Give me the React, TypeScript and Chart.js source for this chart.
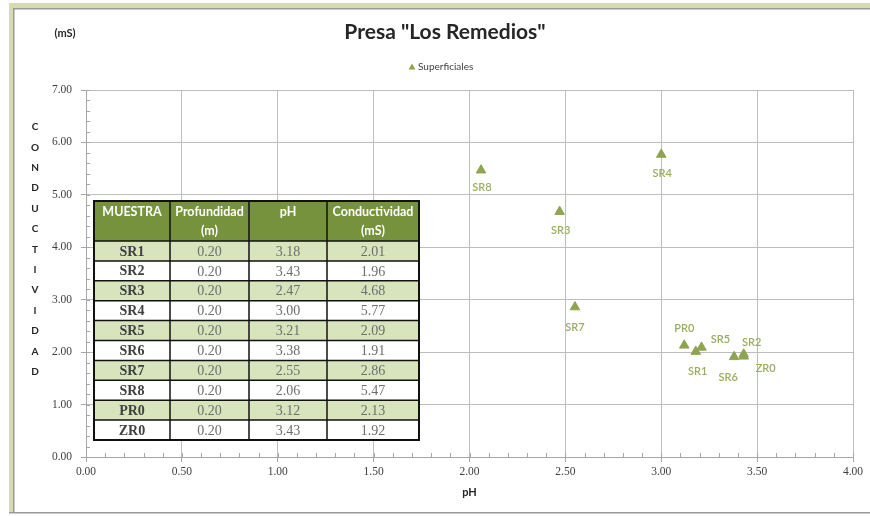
import React, { useEffect, useRef } from "react";
import { Chart, registerables } from "chart.js";
Chart.register(...registerables);

const sampleNames = ["SR1", "SR2", "SR3", "SR4", "SR5", "SR6", "SR7", "SR8", "PR0", "ZR0"];
const depthValues = [0.2, 0.2, 0.2, 0.2, 0.2, 0.2, 0.2, 0.2, 0.2, 0.2];
const phValues = [3.18, 3.43, 2.47, 3.0, 3.21, 3.38, 2.55, 2.06, 3.12, 3.43];
const conductivityValues = [2.01, 1.96, 4.68, 5.77, 2.09, 1.91, 2.86, 5.47, 2.13, 1.92];
const tableHeaders = [["MUESTRA"], ["Profundidad", "(m)"], ["pH"], ["Conductividad", "(mS)"]];
const chartTitle = 'Presa "Los Remedios"';
const seriesName = "Superficiales";
const xAxisTitle = "pH";
const yAxisTitle = "CONDUCTIVIDAD";
const unitLabel = "(mS)";

// label placement (style only): dx, dy in px from the point
const labelOffsets: Record<string, [number, number]> = {
  SR1: [2, 20], SR2: [8, -12], SR3: [1, 19], SR4: [1, 19], SR5: [19, -8],
  SR6: [-6, 21], SR7: [0, 20], SR8: [1, 17], PR0: [0, -17], ZR0: [22, 12],
};

const GREEN = "#8FA44F";
const SANS = "Lato, 'Open Sans', sans-serif";
const SERIF = "'Liberation Serif', 'DejaVu Serif', serif";

const decorPlugin = {
  id: "decor",
  beforeDraw(chart: any) {
    const ctx = chart.ctx;
    ctx.save();
    ctx.fillStyle = "#ffffff";
    ctx.fillRect(0, 0, chart.width, chart.height);
    // frame
    ctx.fillStyle = "#D6DBB0";
    ctx.fillRect(9, 3, chart.width - 9, 5);
    ctx.fillRect(9, 3, 4, chart.height - 6);
    ctx.fillStyle = "#9A9A9A";
    ctx.fillRect(13, 8, chart.width - 13, 1.5);
    ctx.fillRect(13, 8, 1.5, chart.height - 12);
    ctx.fillRect(9, chart.height - 4, chart.width - 9, 1.5);
    ctx.restore();
  },
  afterDatasetsDraw(chart: any) {
    const ctx = chart.ctx;
    const xs = chart.scales.x;
    const ys = chart.scales.y;
    const area = chart.chartArea;
    ctx.save();
    // minor ticks
    ctx.strokeStyle = "#A6A6A6";
    ctx.lineWidth = 1;
    for (let v = 0; v <= 4.0001; v += 0.1) {
      const px = Math.round(xs.getPixelForValue(v)) + 0.5;
      ctx.beginPath();
      ctx.moveTo(px, area.bottom);
      ctx.lineTo(px, area.bottom - 4);
      ctx.stroke();
    }
    for (let v = 0; v <= 7.0001; v += 0.2) {
      const py = Math.round(ys.getPixelForValue(v)) + 0.5;
      ctx.beginPath();
      ctx.moveTo(area.left, py);
      ctx.lineTo(area.left + 4, py);
      ctx.stroke();
    }
    // point labels
    ctx.fillStyle = "#98AD5E";
    ctx.font = `600 11px ${SANS}`;
    ctx.textAlign = "center";
    ctx.textBaseline = "middle";
    sampleNames.forEach((n, i) => {
      const px = xs.getPixelForValue(phValues[i]);
      const py = ys.getPixelForValue(conductivityValues[i]);
      const o = labelOffsets[n] || [0, 18];
      ctx.fillText(n, px + o[0], py + o[1]);
    });

    // table
    const cols = [94, 170, 249, 327, 419];
    const top = 201;
    const headBottom = 241;
    const rowH = 19.9;
    const bottom = headBottom + rowH * sampleNames.length;
    ctx.fillStyle = "#76923C";
    ctx.fillRect(cols[0], top, cols[4] - cols[0], headBottom - top);
    sampleNames.forEach((_, i) => {
      ctx.fillStyle = i % 2 === 0 ? "#D7E4BC" : "#FFFFFF";
      ctx.fillRect(cols[0], headBottom + i * rowH, cols[4] - cols[0], rowH);
    });
    ctx.fillStyle = "#FFFFFF";
    ctx.font = `bold 12.5px ${SANS}`;
    tableHeaders.forEach((lines, c) => {
      const cx = (cols[c] + cols[c + 1]) / 2;
      lines.forEach((t, li) => ctx.fillText(t, cx, 212 + li * 19));
    });
    sampleNames.forEach((n, i) => {
      const cy = headBottom + i * rowH + rowH / 2 + 1;
      const vals = [n, depthValues[i].toFixed(2), phValues[i].toFixed(2), conductivityValues[i].toFixed(2)];
      vals.forEach((t, c) => {
        const cx = (cols[c] + cols[c + 1]) / 2;
        ctx.fillStyle = c === 0 ? "#404040" : "#6E6E6E";
        ctx.font = c === 0 ? `bold 14px ${SERIF}` : `14px ${SERIF}`;
        ctx.fillText(t, cx, cy);
      });
    });
    ctx.strokeStyle = "#111111";
    ctx.lineWidth = 1.5;
    for (let i = 0; i <= sampleNames.length; i++) {
      const y = headBottom + i * rowH;
      ctx.beginPath();
      ctx.moveTo(cols[0], y);
      ctx.lineTo(cols[4], y);
      ctx.stroke();
    }
    cols.forEach((x) => {
      ctx.beginPath();
      ctx.moveTo(x, top);
      ctx.lineTo(x, bottom);
      ctx.stroke();
    });
    ctx.lineWidth = 2;
    ctx.strokeRect(cols[0], top, cols[4] - cols[0], bottom - top);
    ctx.restore();
  },
  afterDraw(chart: any) {
    const ctx = chart.ctx;
    const area = chart.chartArea;
    ctx.save();
    ctx.textAlign = "center";
    ctx.textBaseline = "middle";
    ctx.fillStyle = "#262626";
    ctx.font = `bold 21px ${SANS}`;
    ctx.fillText(chartTitle, 445, 32);
    ctx.font = `bold 11px ${SANS}`;
    ctx.fillText(unitLabel, 65, 33);
    // legend
    ctx.fillStyle = GREEN;
    ctx.beginPath();
    ctx.moveTo(412, 63.5);
    ctx.lineTo(415.5, 69.5);
    ctx.lineTo(408.5, 69.5);
    ctx.closePath();
    ctx.fill();
    ctx.fillStyle = "#404040";
    ctx.font = `10px ${SANS}`;
    ctx.textAlign = "left";
    ctx.fillText(seriesName, 418, 67);
    // axis titles
    ctx.textAlign = "center";
    ctx.fillStyle = "#262626";
    ctx.font = `bold 11px ${SANS}`;
    ctx.fillText(xAxisTitle, (area.left + area.right) / 2, 492);
    ctx.font = `bold 10px ${SANS}`;
    const letters = yAxisTitle.split("");
    letters.forEach((l, i) => ctx.fillText(l, 35, 127 + i * 20.4));
    ctx.restore();
  },
};

export default function App() {
  const ref = useRef<HTMLCanvasElement>(null);
  useEffect(() => {
    if (!ref.current) return;
    const chart = new Chart(ref.current, {
      type: "scatter",
      data: {
        datasets: [
          {
            label: seriesName,
            data: phValues.map((x, i) => ({ x, y: conductivityValues[i] })),
            pointStyle: "triangle",
            pointRadius: 5.5,
            backgroundColor: GREEN,
            borderColor: GREEN,
            borderWidth: 1,
          },
        ],
      },
      options: {
        responsive: false,
        animation: false,
        layout: { padding: { top: 90, right: 17, left: 0, bottom: 0 } },
        plugins: { legend: { display: false }, title: { display: false }, tooltip: { enabled: false } },
        scales: {
          x: {
            type: "linear",
            min: 0,
            max: 4,
            afterFit: (s: any) => { s.height = 59; },
            afterBuildTicks: (s: any) => {
              const t = [];
              for (let i = 0; i <= 8; i++) t.push({ value: i * 0.5 });
              s.ticks = t;
            },
            ticks: {
              callback: (v: any) => Number(v).toFixed(2),
              font: { family: SERIF, size: 11.5 },
              color: "#404040",
              padding: 3,
              maxRotation: 0,
            },
            grid: { color: "#BDBDBD", tickLength: 5, tickColor: "#A6A6A6" },
            border: { color: "#A6A6A6" },
          },
          y: {
            type: "linear",
            min: 0,
            max: 7,
            afterFit: (s: any) => { s.width = 86; },
            afterBuildTicks: (s: any) => {
              const t = [];
              for (let i = 0; i <= 7; i++) t.push({ value: i });
              s.ticks = t;
            },
            ticks: {
              callback: (v: any) => Number(v).toFixed(2),
              font: { family: SERIF, size: 11.5 },
              color: "#404040",
              padding: 9,
            },
            grid: { color: "#BDBDBD", tickLength: 5, tickColor: "#A6A6A6" },
            border: { color: "#A6A6A6" },
          },
        },
      },
      plugins: [decorPlugin],
    } as any);
    return () => chart.destroy();
  }, []);
  return (
    <div style={{ position: "fixed", left: 0, top: 0, width: 870, height: 516, background: "#fff" }}>
      <canvas ref={ref} width={870} height={516} style={{ display: "block" }} />
    </div>
  );
}
